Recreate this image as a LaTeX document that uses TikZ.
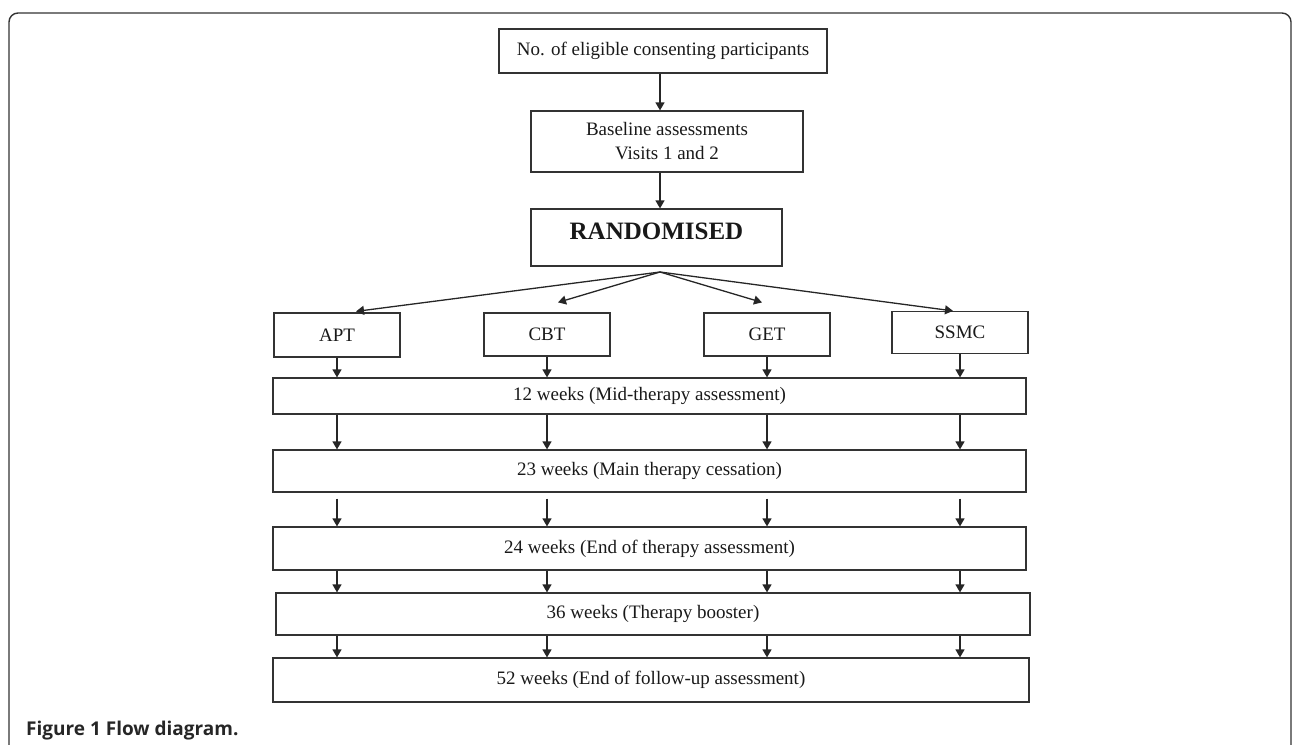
\documentclass[tikz,border=0pt]{standalone}
\usepackage{fontspec}
\setmainfont{Liberation Serif}
\newfontfamily\capfont{Open Sans}
\usetikzlibrary{arrows.meta,positioning}

\tikzset{
  box/.style={draw=black!80,line width=1.2pt,inner sep=0pt,align=center,text=black!90,font=\fontsize{19}{24}\selectfont},
  arr/.style={draw=black!85,line width=1.3pt,-{Triangle[length=8pt,width=9pt]}}
}

\begin{document}
\begin{tikzpicture}[x=1pt,y=-1pt]
\useasboundingbox (0,0) rectangle (1292,744);
\draw[rounded corners=9pt,line width=1.4pt,black!80] (9,770) -- (9,13) -- (1291,13) -- (1291,770);

% top of the chart
\node[box,minimum width=328pt,minimum height=44pt] (elig) at (663,51) {No. of eligible consenting participants};
\node[box,minimum width=272pt,minimum height=61pt] (base) at (667,141.5) {Baseline assessments\\Visits 1 and 2};
\node[box,minimum width=251pt,minimum height=57pt,font=\fontsize{25}{30}\selectfont\bfseries,text height=17pt,text depth=13pt] (rand) at (656.5,237.5) {RANDOMISED};
\coordinate (split) at (660,272);

% the four arms
\node[box,minimum width=126pt,minimum height=44pt] (apt) at (337,335) {APT};
\node[box,minimum width=126pt,minimum height=43pt] (cbt) at (547,334.5) {CBT};
\node[box,minimum width=126pt,minimum height=43pt] (get) at (767,334.5) {GET};
\node[box,minimum width=136pt,minimum height=42pt] (ssmc) at (960,332.5) {SSMC};

% follow-up points
\node[box,minimum width=753pt,minimum height=36pt] (w12) at (649.5,396) {12 weeks (Mid-therapy assessment)};
\node[box,minimum width=753pt,minimum height=42pt] (w23) at (649.5,471) {23 weeks (Main therapy cessation)};
\node[box,minimum width=753pt,minimum height=43pt] (w24) at (649.5,548.5) {24 weeks (End of therapy assessment)};
\node[box,minimum width=754pt,minimum height=42pt] (w36) at (653,614) {36 weeks (Therapy booster)};
\node[box,minimum width=756pt,minimum height=44pt] (w52) at (651,680) {52 weeks (End of follow-up assessment)};

\node[anchor=base west,inner sep=0pt,text=black!85,font=\capfont\fontsize{19}{22}\selectfont\bfseries] (cap) at (26,735) {Figure 1 Flow diagram.};

\draw[arr] (elig.south -| split) -- (base.north -| split);
\draw[arr] (base.south -| split) -- (rand.north -| split);
\draw[arr] (split) -- ([xshift=19pt,yshift=1pt]apt.north);
\draw[arr] (split) -- ([xshift=11pt,yshift=10pt]cbt.north);
\draw[arr] (split) -- ([xshift=-5pt,yshift=10pt]get.north);
\draw[arr] (split) -- ([xshift=-7pt]ssmc.north);

\foreach \c in {apt,cbt,get,ssmc}
  \draw[arr] (\c.south) -- (w12.north -| \c);
\foreach \a/\b/\s in {w12/w23/0,w23/w24/6,w24/w36/0,w36/w52/0}
  \foreach \c in {apt,cbt,get,ssmc}
    \draw[arr,shorten <=\s pt] (\a.south -| \c) -- (\b.north -| \c);
\end{tikzpicture}
\end{document}
